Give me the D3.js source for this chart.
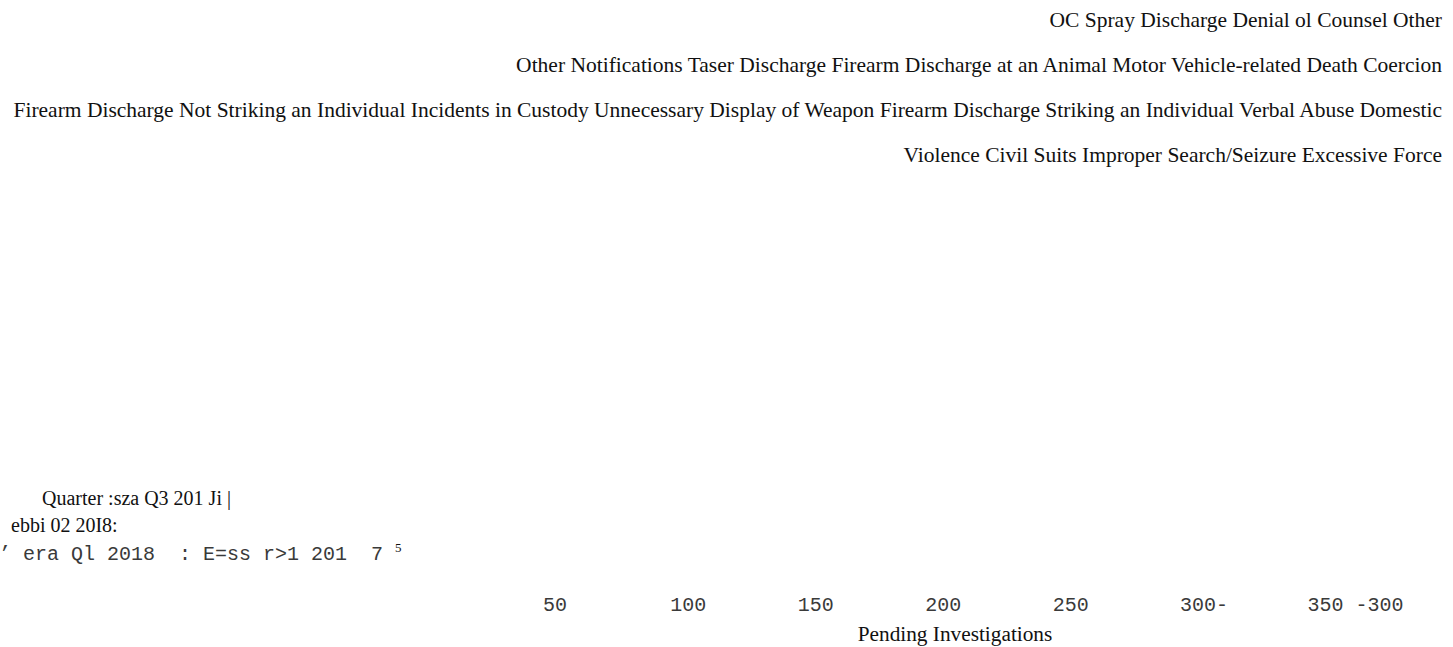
<!DOCTYPE html>
<html>
<head>
<meta charset="utf-8">
<script src="https://cdn.jsdelivr.net/npm/d3@7"></script>
<style>
  html, body { margin: 0; padding: 0; background: #fff; }
  svg { display: block; }
  .serif { font-family: "Liberation Serif", "Times New Roman", serif; fill: #111; }
  .mono { font-family: "Liberation Mono", "Courier New", monospace; fill: #3a3a3a; }
</style>
</head>
<body>
<svg id="chart" width="1453" height="647"></svg>
<script>
// ---- data ----
const legendLines = [
  "OC Spray Discharge Denial ol Counsel Other",
  "Other Notifications Taser Discharge Firearm Discharge at an Animal Motor Vehicle-related Death Coercion",
  "Firearm Discharge Not Striking an Individual Incidents in Custody Unnecessary Display of Weapon Firearm Discharge Striking an Individual Verbal Abuse Domestic",
  "Violence Civil Suits Improper Search/Seizure Excessive Force"
];
const quarterLabelsSerif = ["Quarter :sza Q3 201 Ji |", "ebbi 02 20I8:"];
const quarterLabelMono = "\u2019 era Ql 2018  : E=ss r>1 201  7";
const quarterSuperscript = "5";
const tickValues = [50, 100, 150, 200, 250, 300, 350];
const tickLabels = ["50", "100", "150", "200", "250", "300-", "350 -300"];
const xTitle = "Pending Investigations";

// ---- drawing ----
const svg = d3.select("#chart");

// legend lines, right aligned
svg.append("g")
  .selectAll("text")
  .data(legendLines)
  .join("text")
  .attr("class", "serif")
  .attr("x", 1442)
  .attr("y", (d, i) => 27 + i * 45)
  .attr("text-anchor", "end")
  .attr("font-size", 21.5)
  .text(d => d);

// quarter (y) labels
const ql = svg.append("g");
ql.selectAll("text.q")
  .data(quarterLabelsSerif)
  .join("text")
  .attr("class", "serif q")
  .attr("x", (d, i) => i === 0 ? 42 : 11)
  .attr("y", (d, i) => i === 0 ? 505 : 532)
  .attr("font-size", 20)
  .text(d => d);
ql.append("text")
  .attr("class", "mono")
  .attr("x", -1)
  .attr("y", 560)
  .attr("font-size", 20)
  .style("white-space", "pre")
  .text(quarterLabelMono);
ql.append("text")
  .attr("class", "serif")
  .attr("x", 395)
  .attr("y", 552)
  .attr("font-size", 13)
  .text(quarterSuperscript);

// x axis
const x = d3.scaleLinear().domain([0, 350]).range([433, 1325]);
const axis = d3.axisBottom(x)
  .tickValues(tickValues)
  .tickSize(0)
  .tickPadding(0)
  .tickFormat((d, i) => tickLabels[i]);
const gx = svg.append("g")
  .attr("transform", "translate(0,596)")
  .call(axis);
gx.select(".domain").remove();
gx.attr("font-family", null);
gx.selectAll(".tick text")
  .attr("class", "mono")
  .attr("font-size", 20)
  .attr("text-anchor", "start")
  .attr("dx", -18)
  .attr("dy", "0.75em")
  .style("white-space", "pre")
  .attr("fill", null);

svg.append("text")
  .attr("class", "serif")
  .attr("x", 955)
  .attr("y", 641)
  .attr("text-anchor", "middle")
  .attr("font-size", 21.3)
  .text(xTitle);
</script>
</body>
</html>
